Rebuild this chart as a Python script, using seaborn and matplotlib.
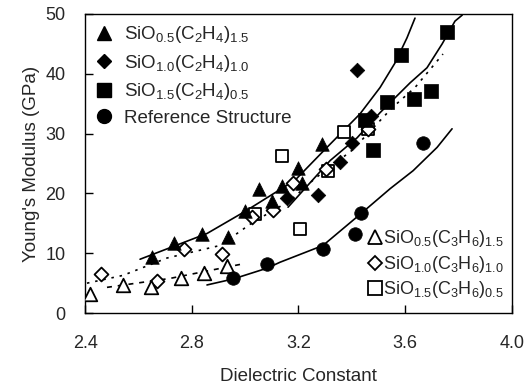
import numpy as np
import pandas as pd
import matplotlib
matplotlib.use("Agg")
import matplotlib.pyplot as plt
from matplotlib.lines import Line2D
import seaborn as sns

sns.set_style("ticks")
plt.rcParams['font.family'] = ['Liberation Sans', 'DejaVu Sans']
plt.rcParams['mathtext.default'] = 'regular'

# ---------------- data ----------------
# SiO0.5(C2H4)1.5  (filled triangles)
tri_f_x = [2.651, 2.734, 2.839, 2.936, 3.000, 3.052, 3.101, 3.139, 3.199, 3.214, 3.289]
tri_f_y = [9.3, 11.7, 13.2, 12.7, 17.0, 20.7, 18.7, 21.3, 24.2, 21.7, 28.2]
# SiO1.0(C2H4)1.0  (filled diamonds)
dia_f_x = [3.157, 3.274, 3.356, 3.401, 3.420, 3.472]
dia_f_y = [19.3, 19.8, 25.3, 28.5, 40.7, 33.0]
# SiO1.5(C2H4)0.5  (filled squares)
sq_f_x = [3.450, 3.480, 3.532, 3.585, 3.634, 3.697, 3.757]
sq_f_y = [32.2, 27.3, 35.3, 43.2, 35.7, 37.2, 47.0]
# Reference structure (filled circles)
ref_x = [2.955, 3.082, 3.292, 3.412, 3.435, 3.668]
ref_y = [5.8, 8.2, 10.7, 13.3, 16.8, 28.5]
# SiO0.5(C3H6)1.5  (open triangles)
tri_o_x = [2.419, 2.542, 2.647, 2.760, 2.846, 2.932]
tri_o_y = [3.2, 4.7, 4.3, 5.8, 6.7, 7.8]
# SiO1.0(C3H6)1.0  (open diamonds)
dia_o_x = [2.460, 2.670, 2.771, 2.914, 3.026, 3.105, 3.180, 3.304, 3.461]
dia_o_y = [6.5, 5.3, 10.7, 9.8, 16.0, 17.2, 21.7, 24.0, 30.8]
# SiO1.5(C3H6)0.5  (open squares)
sq_o_x = [3.037, 3.139, 3.206, 3.311, 3.371, 3.461]
sq_o_y = [16.5, 26.2, 14.0, 23.7, 30.3, 30.8]

# fitted curves
fit1_x = [2.606, 2.857, 3.000, 3.187, 3.307, 3.431, 3.506, 3.562, 3.607, 3.637]
fit1_y = [9.0, 13.3, 17.0, 22.2, 27.7, 33.3, 37.7, 41.8, 46.0, 49.3]
fit2_x = [3.161, 3.319, 3.420, 3.506, 3.619, 3.682, 3.739, 3.787, 3.814]
fit2_y = [17.7, 25.5, 29.3, 33.5, 38.5, 41.0, 45.0, 48.8, 49.8]
fit3_x = [2.407, 2.542, 2.707, 2.906, 3.030, 3.169, 3.262, 3.401, 3.551, 3.637, 3.742]
fit3_y = [5.0, 6.3, 9.2, 11.3, 15.2, 18.8, 22.5, 27.2, 34.3, 37.7, 43.3]
fit4_x = [2.482, 2.719, 3.000]
fit4_y = [4.3, 5.8, 8.3]
fit5_x = [2.857, 2.955, 3.082, 3.131, 3.292, 3.439, 3.544, 3.630, 3.720, 3.776]
fit5_y = [4.7, 5.7, 7.5, 8.5, 11.3, 16.8, 20.8, 23.8, 27.7, 30.8]

x_ticks = [2.4, 2.8, 3.2, 3.6, 4.0]
y_ticks = [0, 10, 20, 30, 40, 50]

labels_f = [r'SiO$_{0.5}$(C$_2$H$_4$)$_{1.5}$', r'SiO$_{1.0}$(C$_2$H$_4$)$_{1.0}$',
            r'SiO$_{1.5}$(C$_2$H$_4$)$_{0.5}$', 'Reference Structure']
labels_o = [r'SiO$_{0.5}$(C$_3$H$_6$)$_{1.5}$', r'SiO$_{1.0}$(C$_3$H$_6$)$_{1.0}$',
            r'SiO$_{1.5}$(C$_3$H$_6$)$_{0.5}$']

# ---------------- figure ----------------
fig = plt.figure(figsize=(5.32, 3.87), dpi=100)
ax = fig.add_axes([0.160, 0.191, 0.802, 0.773])

lw = 1.2
def curve(xs, ys, **kw):
    d = pd.DataFrame({'x': xs, 'y': ys})
    sns.lineplot(data=d, x='x', y='y', ax=ax, sort=False, estimator=None,
                 color='black', lw=lw, **kw)

curve(fit1_x, fit1_y)
curve(fit2_x, fit2_y)
curve(fit3_x, fit3_y, dashes=(1.5, 3.5))
curve(fit4_x, fit4_y, dashes=(3, 3.5))
curve(fit5_x, fit5_y)

def pts(xs, ys, marker, filled, s):
    d = pd.DataFrame({'x': xs, 'y': ys})
    if filled:
        sns.scatterplot(data=d, x='x', y='y', ax=ax, marker=marker, s=s,
                        color='black', edgecolor='black', linewidth=0.5, zorder=3)
    else:
        sns.scatterplot(data=d, x='x', y='y', ax=ax, marker=marker, s=s,
                        facecolor='white', edgecolor='black', linewidth=1.3, zorder=3)

pts(sq_o_x, sq_o_y, 's', False, 80)
pts(dia_o_x, dia_o_y, 'D', False, 50)
pts(tri_o_x, tri_o_y, '^', False, 95)
pts(tri_f_x, tri_f_y, '^', True, 95)
pts(dia_f_x, dia_f_y, 'D', True, 55)
pts(sq_f_x, sq_f_y, 's', True, 95)
pts(ref_x, ref_y, 'o', True, 95)

ax.set_xlim(2.4, 4.0)
ax.set_ylim(0, 50)
ax.set_xticks(x_ticks)
ax.set_xticklabels([f'{v:.1f}' for v in x_ticks])
ax.set_yticks(y_ticks)
ax.tick_params(axis='both', direction='in', length=6, width=1, labelsize=13,
               color='black')
ax.tick_params(axis='x', pad=16)
ax.tick_params(axis='y', pad=14)
for sp in ax.spines.values():
    sp.set_linewidth(1.0)
    sp.set_color('black')
ax.set_xlabel('Dielectric Constant', fontsize=13.5, labelpad=11)
ax.set_ylabel("Young's Modulus (GPa)", fontsize=13.5, labelpad=4)

# legends
h_f = [Line2D([], [], ls='none', marker='^', ms=10, color='black'),
       Line2D([], [], ls='none', marker='D', ms=7.5, color='black'),
       Line2D([], [], ls='none', marker='s', ms=9.5, color='black'),
       Line2D([], [], ls='none', marker='o', ms=10, color='black')]
leg1 = ax.legend(h_f, labels_f, loc='upper left', bbox_to_anchor=(-0.008, 1.01),
                 frameon=False, fontsize=13.5, handlelength=1.0, handletextpad=0.55,
                 labelspacing=0.4, borderaxespad=0.3)
ax.add_artist(leg1)
h_o = [Line2D([], [], ls='none', marker='^', ms=10, mfc='white', mec='black', mew=1.3),
       Line2D([], [], ls='none', marker='D', ms=7.5, mfc='white', mec='black', mew=1.3),
       Line2D([], [], ls='none', marker='s', ms=9.5, mfc='white', mec='black', mew=1.3)]
ax.legend(h_o, labels_o, loc='lower right', bbox_to_anchor=(1.01, 0.0),
          frameon=False, fontsize=13, handlelength=0.6, handletextpad=0.1,
          labelspacing=0.25, borderaxespad=0.3)

fig.savefig('out.png', dpi=100)
